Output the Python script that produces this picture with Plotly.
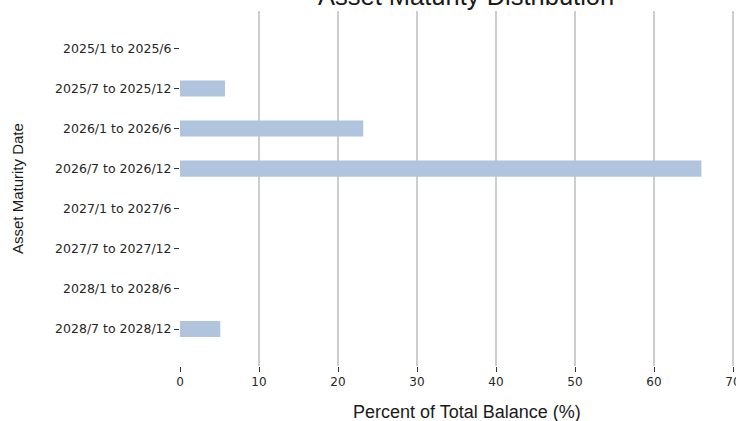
import plotly.graph_objects as go

categories = ["2025/1 to 2025/6", "2025/7 to 2025/12", "2026/1 to 2026/6", "2026/7 to 2026/12",
              "2027/1 to 2027/6", "2027/7 to 2027/12", "2028/1 to 2028/6", "2028/7 to 2028/12"]
percent_values = [0, 5.7, 23.2, 66.0, 0, 0, 0, 5.1]
x_ticks = [0, 10, 20, 30, 40, 50, 60, 70]

title_text = "Asset Maturity Distribution"
x_title = "Percent of Total Balance (%)"
y_title = "Asset Maturity Date"

W, H = 736, 421
L, R, T, B = 180, 0, 11, 421 - 366
pw = W - L - R
ph = H - T - B


def px_x(wx):
    return (wx - L) / pw


def px_y(wy):
    return 1 - (wy - T) / ph


fig = go.Figure(go.Bar(
    x=percent_values, y=categories, orientation="h", width=0.4,
    marker=dict(color="#b0c4de", line=dict(width=0)),
))

fig.update_layout(
    width=W, height=H,
    margin=dict(l=L, r=R, t=T, b=B, pad=0),
    paper_bgcolor="white", plot_bgcolor="white",
    showlegend=False,
    xaxis=dict(
        range=[0, pw / 79.0 * 10], tickvals=x_ticks, ticktext=[str(v) for v in x_ticks],
        showgrid=True, gridcolor="rgba(90,90,90,0.3)", gridwidth=1.5,
        zeroline=False, showline=False,
        ticks="outside", ticklen=5, tickcolor="#333333", tickwidth=1,
        tickfont=dict(family="DejaVu Sans", size=12, color="#262626"),
        ticklabeloverflow="allow", automargin=False,
        layer="above traces",
    ),
    yaxis=dict(
        categoryorder="array", categoryarray=categories,
        range=[7.92, -0.93],
        showgrid=False, zeroline=False, showline=False,
        ticks="outside", ticklen=5, tickcolor="#333333", tickwidth=1,
        tickfont=dict(family="DejaVu Sans", size=12.5, color="#262626"),
        automargin=False,
    ),
    annotations=[
        dict(text=title_text, xref="paper", yref="paper",
             x=px_x(466), y=px_y(-4), xanchor="center", yanchor="middle",
             showarrow=False, font=dict(family="Liberation Sans", size=25.5, color="#1a1a1a")),
        dict(text=x_title, xref="paper", yref="paper",
             x=px_x(467), y=px_y(412), xanchor="center", yanchor="middle",
             showarrow=False, font=dict(family="Liberation Sans", size=18, color="#1a1a1a")),
        dict(text=y_title, xref="paper", yref="paper", textangle=-90,
             x=px_x(17), y=px_y(189), xanchor="center", yanchor="middle",
             showarrow=False, font=dict(family="Liberation Sans", size=15, color="#1a1a1a")),
    ],
)

fig.write_html("out.html", config={"displayModeBar": False},
               post_script="document.body.style.margin='0';")
